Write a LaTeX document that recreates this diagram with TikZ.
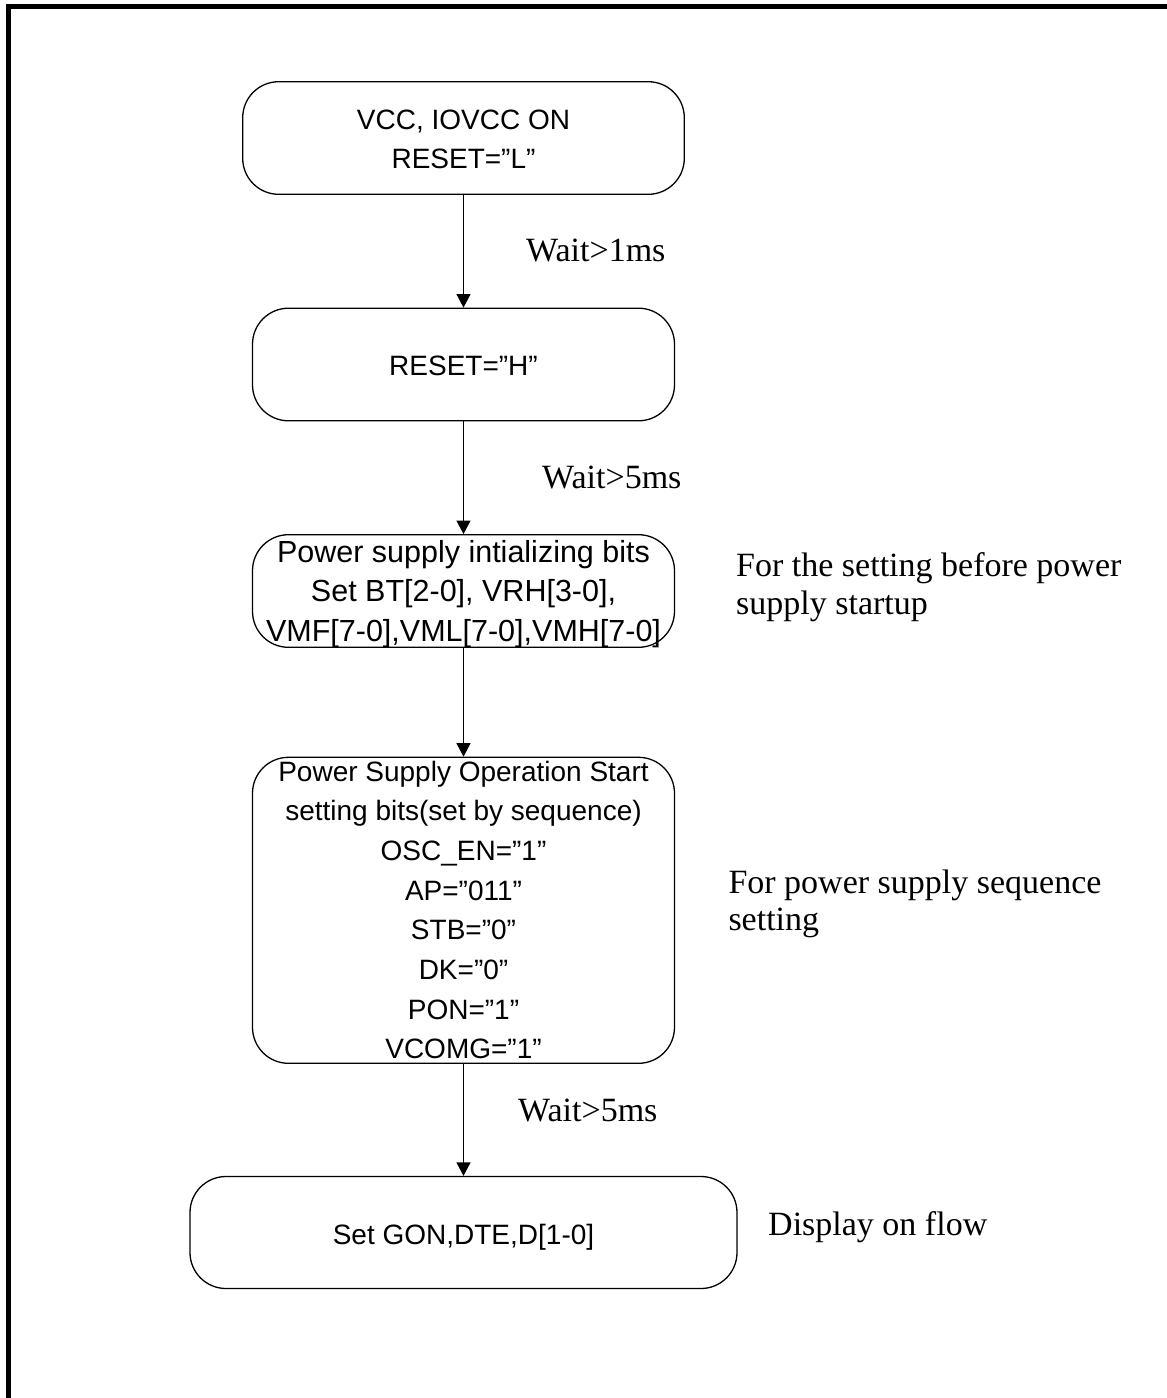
\documentclass[tikz,border=0pt]{standalone}
\usepackage{fontspec}
\setmainfont{Liberation Serif}
\newfontfamily\boxfont{Liberation Sans}
\usetikzlibrary{arrows.meta}
\begin{document}
\begin{tikzpicture}[x=1pt,y=-1pt,
  flowbox/.style={draw=black, line width=1.3pt, rounded corners=36pt, inner sep=0pt, minimum width=422pt, minimum height=112.6pt},
  boxtext/.style={inner sep=0pt, align=center, font=\boxfont\fontsize{28}{39.7}\selectfont},
  note/.style={inner sep=0pt, align=left, font=\fontsize{34}{38.5}\selectfont},
  flow/.style={draw=black, line width=1.3pt, -{Triangle[length=13.5pt,width=14pt]}}]
\useasboundingbox (0,0) rectangle (1167,1398);
\fill[white] (0,0) rectangle (1167,1398);
\draw[line width=5.5pt, line join=miter] (1167,6.5) -- (8.5,6.5) -- (8.5,1398);

% boxes
\node[flowbox, minimum width=441.6pt] (b1) at (463.5,138) {};
\node[flowbox] (b2) at (463.5,364.5) {};
\node[flowbox] (b3) at (463.5,591) {};
\node[flowbox, minimum height=306pt] (b4) at (463.5,910.3) {};
\node[flowbox, minimum width=547pt, minimum height=112pt] (b5) at (463.5,1232.5) {};

% box texts
\node[boxtext, anchor=north] (t1) at (463.5,109.3) {VCC, IOVCC ON\\RESET=”L”};
\node[boxtext, anchor=base] (t2) at (463.5,375) {RESET=”H”};
\node[boxtext, anchor=north, font=\boxfont\fontsize{30.5}{39.5}\selectfont] (t3) at (463.5,540) {Power supply intializing bits\\Set BT[2-0], VRH[3-0],\\VMF[7-0],VML[7-0],VMH[7-0]};
\node[boxtext, anchor=north] (t4) at (463.5,760.5) {Power Supply Operation Start\\setting bits(set by sequence)\\OSC\_EN=”1”\\AP=”011”\\STB=”0”\\DK=”0”\\PON=”1”\\VCOMG=”1”};
\node[boxtext, anchor=base] (t5) at (463.5,1244.3) {Set GON,DTE,D[1-0]};

% connectors
\draw[flow] (b1.south) -- (b2.north);
\draw[flow] (b2.south) -- (b3.north);
\draw[flow] (b3.south) -- (b4.north);
\draw[flow] (b4.south) -- (b5.north);

% labels
\node[note, anchor=base west] (w1) at (526,261.5) {Wait>1ms};
\node[note, anchor=base west] (w2) at (542,488) {Wait>5ms};
\node[note, anchor=base west] (w3) at (518,1121) {Wait>5ms};
\node[note, anchor=north west, font=\fontsize{34}{38}\selectfont] (n1) at (736,552.3) {For the setting before power\\supply startup};
\node[note, anchor=north west, font=\fontsize{34}{36.5}\selectfont] (n2) at (728.3,869.8) {For power supply sequence\\setting};
\node[note, anchor=base west] (n3) at (768,1235) {Display on flow};
\end{tikzpicture}
\end{document}
